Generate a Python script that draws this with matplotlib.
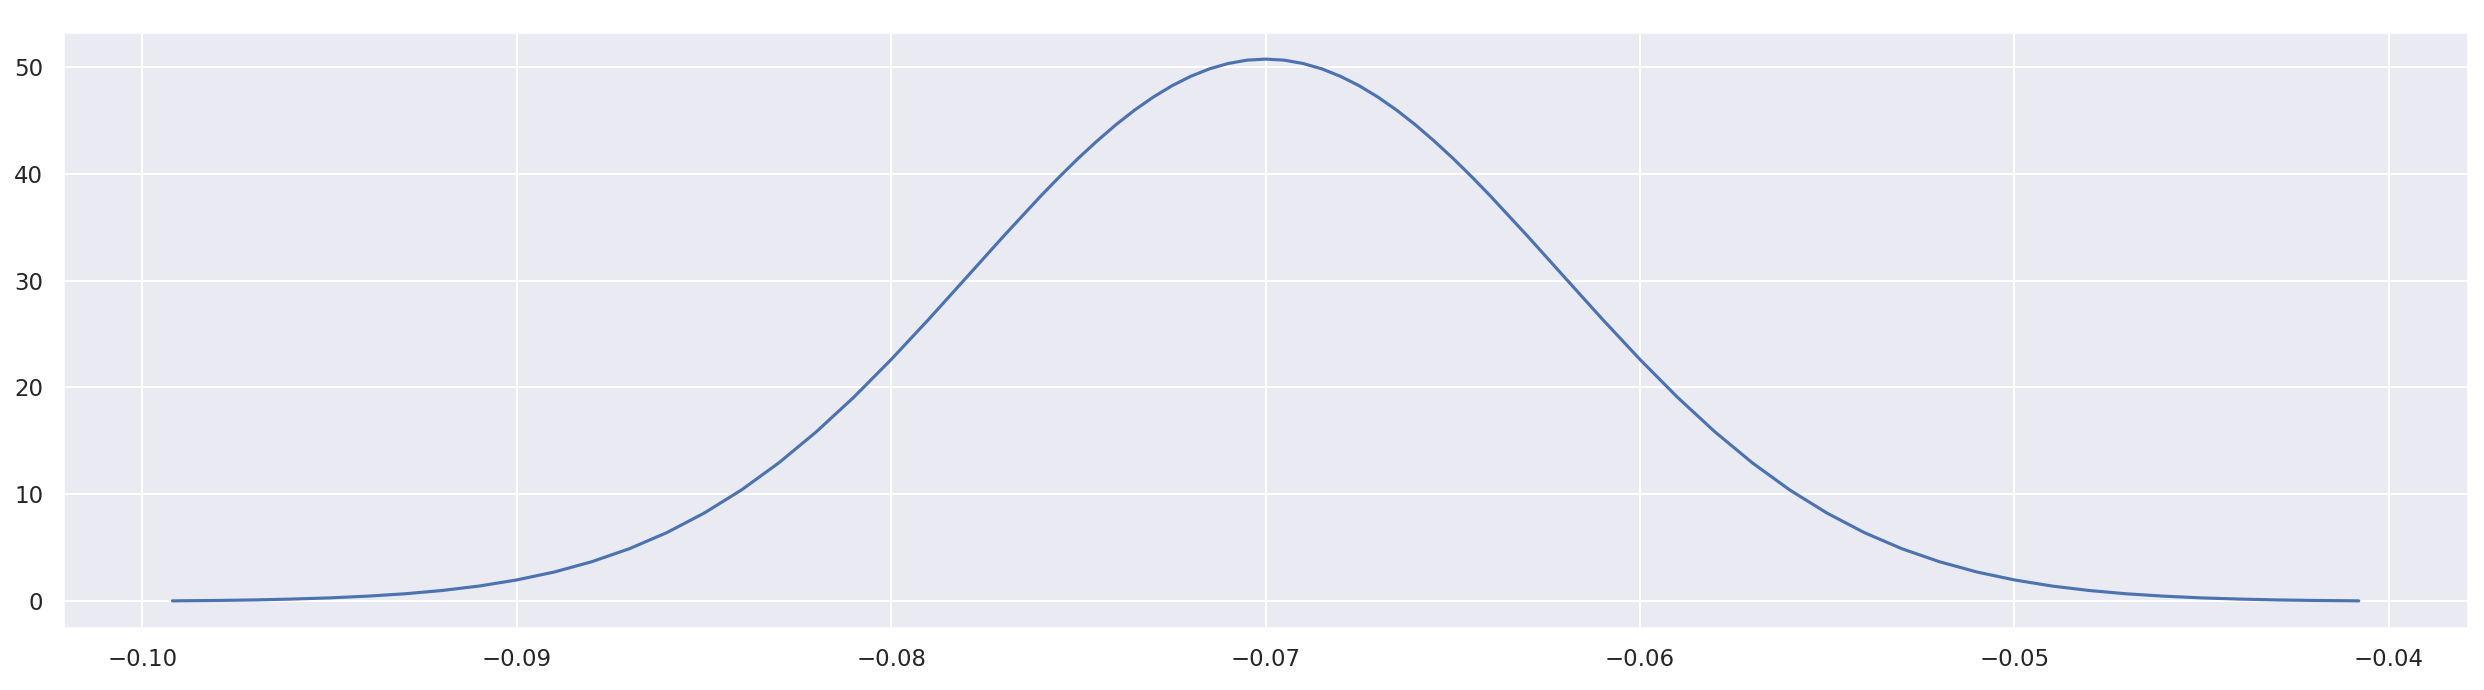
"""
Density curve on a seaborn darkgrid background.
"""

import matplotlib
matplotlib.use("Agg")
import matplotlib.pyplot as plt
import seaborn as sns

# ── Values ───────────────────────────────────────────────────────────────
X_VALUES = [
    -0.0992, -0.099, -0.098, -0.097, -0.096, -0.095, -0.094, -0.093, -0.092,
    -0.091, -0.090, -0.089, -0.088, -0.087, -0.086, -0.085, -0.084, -0.083,
    -0.082, -0.081, -0.080, -0.079, -0.078, -0.077, -0.076,
    -0.0755, -0.075, -0.0745, -0.074, -0.0735, -0.073, -0.0725, -0.072,
    -0.0715, -0.071, -0.0705, -0.070, -0.0695, -0.069, -0.0685, -0.068,
    -0.0675, -0.067, -0.0665, -0.066, -0.0655, -0.065, -0.0645,
    -0.064, -0.063, -0.062, -0.061, -0.060, -0.059, -0.058, -0.057, -0.056,
    -0.055, -0.054, -0.053, -0.052, -0.051, -0.050, -0.049, -0.048, -0.047,
    -0.046, -0.045, -0.044, -0.043, -0.042, -0.041, -0.0408,
]
DENSITY = [
    0.05, 0.06, 0.09, 0.14, 0.22, 0.33, 0.49, 0.71, 1.02,
    1.44, 2.01, 2.75, 3.71, 4.92, 6.42, 8.25, 10.42, 12.96,
    15.86, 19.09, 22.62, 26.37, 30.25, 34.14, 37.92,
    39.72, 41.44, 43.05, 44.56, 45.93, 47.15, 48.21, 49.09,
    49.79, 50.29, 50.60, 50.70, 50.60, 50.29, 49.79, 49.09,
    48.21, 47.15, 45.93, 44.56, 43.05, 41.44, 39.72,
    37.92, 34.14, 30.25, 26.37, 22.62, 19.09, 15.86, 12.96, 10.42,
    8.25, 6.42, 4.92, 3.71, 2.75, 2.01, 1.44, 1.02, 0.71,
    0.49, 0.33, 0.22, 0.14, 0.09, 0.06, 0.05,
]


def main():
    sns.set_theme(style="darkgrid")
    fig, ax = plt.subplots(figsize=(16.56, 4.6), dpi=150)
    fig.subplots_adjust(left=0.0254, right=0.9936, top=0.9536, bottom=0.0899)

    ax.plot(X_VALUES, DENSITY, color=sns.color_palette("deep")[0], linewidth=1.5)

    fig.savefig("out.png", dpi=150)


if __name__ == "__main__":
    main()
